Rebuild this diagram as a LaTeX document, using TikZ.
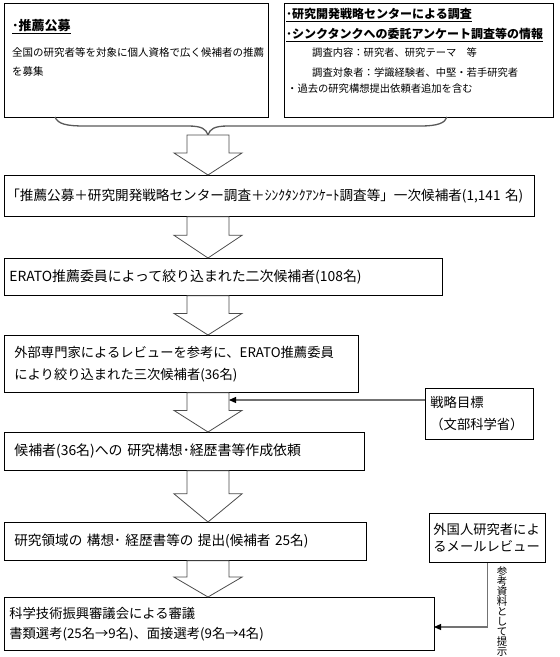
\documentclass[tikz,border=0pt]{standalone}
\usepackage{fontspec}
\setmainfont{Noto Sans CJK JP}
\usetikzlibrary{arrows.meta,calc}
\tikzset{
  box/.style={draw=black, line width=0.8pt, fill=white, anchor=north west, inner ysep=0pt, align=left},
  txt/.style={anchor=west, inner sep=0pt, align=left},
  barrow/.style={draw=black!70, line width=0.8pt, fill=white, line join=miter},
  conn/.style={draw=black!55, line width=1.1pt, -{Triangle[color=black,length=7pt,width=6pt]}},
  bracestyle/.style={draw=black!65, line width=1.3pt},
  fmain/.style={font=\fontsize{13.3}{20}\selectfont},
}
\newcommand\blockarr[2]{\draw[barrow] let \p1=(#1), \p2=(#2), \p3=($(#1)!0.45!(#2)$) in
  (\x1-21pt,\y1) -- (\x1+21pt,\y1) -- (\x1+21pt,\y3) -- (\x1+34pt,\y3) -- (\x1,\y2)
  -- (\x1-34pt,\y3) -- (\x1-21pt,\y3) -- cycle;}
\newcommand\tightlines{\lineskiplimit=-20pt\relax}
\begin{document}
\begin{tikzpicture}[x=1pt,y=-1pt]
\useasboundingbox (0,0) rectangle (560,657);

% top boxes
\node[box, inner xsep=0pt, minimum width=264pt, minimum height=114pt] (b1) at (4,3) {};
\node[txt, font=\fontsize{13}{15}\selectfont] (b1t) at (12,27) {\textbf{\underline{･推薦公募}}};
\node[txt, font=\fontsize{10.5}{19}\selectfont] (b1b) at (12,62.5) {全国の研究者等を対象に個人資格で広く候補者の推薦\\を募集};

\node[box, inner xsep=0pt, minimum width=269pt, minimum height=114pt] (b2) at (284,3) {};
\node[txt, font=\fontsize{12}{14}\selectfont] (b2a) at (286,15) {\textbf{\underline{･研究開発戦略センターによる調査}}};
\node[txt, font=\fontsize{12}{14}\selectfont] (b2b) at (286,35) {\textbf{\underline{･シンクタンクへの委託アンケート調査等の情報}}};
\node[txt, font=\fontsize{10.3}{12}\selectfont] (b2c) at (312,53) {調査内容：研究者、研究テーマ　等};
\node[txt, font=\fontsize{10.3}{12}\selectfont] (b2d) at (312,73) {調査対象者：学識経験者、中堅・若手研究者};
\node[txt, font=\fontsize{10.3}{12}\selectfont] (b2e) at (287,89) {・過去の研究構想提出依頼者追加を含む};

% brace
\coordinate (btip) at (208,135);
\draw[bracestyle] (55,117) .. controls (58,124) and (66,126) .. (85,126) -- (188,126)
  .. controls (202,126) and (206,129) .. (btip)
  .. controls (210,129) and (214,126) .. (228,126) -- (420,126)
  .. controls (438,126) and (445,123) .. (447,117);

% main column
\node[box, font=\fontsize{13.6}{15}\selectfont, text width=526pt, inner xsep=2pt, minimum height=41pt] (b3) at (4,175)
  {「推薦公募＋研究開発戦略センター調査＋ｼﾝｸﾀﾝｸｱﾝｹｰﾄ調査等」一次候補者(1,141~名)};
\node[box, font=\fontsize{13.9}{20}\selectfont, text width=428pt, inner xsep=5pt, minimum height=37pt] (b4) at (4,258)
  {ERATO推薦委員によって絞り込まれた二次候補者(108名)};
\node[box, font=\fontsize{13.3}{22}\selectfont, text width=334pt, inner xsep=10pt, minimum height=57pt] (b5) at (4,335)
  {外部専門家によるレビューを参考に、ERATO推薦委員\\により絞り込まれた三次候補者(36名)};
\node[box, font=\fontsize{13.9}{20}\selectfont, text width=340pt, inner xsep=10pt, minimum height=38pt] (b6) at (4,432)
  {候補者(36名)への~研究構想･経歴書等作成依頼};
\node[box, font=\fontsize{13.6}{20}\selectfont, text width=342pt, inner xsep=10pt, minimum height=38pt] (b7) at (4,522)
  {研究領域の~構想･~経歴書等の~提出(候補者~25名)};
\node[box, fmain, text width=420pt, inner xsep=5pt, minimum height=53pt] (b8) at (4,597)
  {科学技術振興審議会による審議\\書類選考(25名→9名)、面接選考(9名→4名)};

% side boxes
\node[box, font=\fontsize{13.3}{22}\selectfont, text width=98pt, inner xsep=5pt, minimum height=51pt] (senr) at (425,388)
  {戦略目標\\（文部科学省）};
\node[box, font=\fontsize{13.3}{17}\selectfont, text width=108pt, inner xsep=4pt, minimum height=49pt] (gaik) at (429,513)
  {外国人研究者によ\\るメールレビュー};

% block arrows
\blockarr{btip}{b3.north -| btip}
\blockarr{b3.south -| btip}{b4.north -| btip}
\blockarr{b4.south -| btip}{b5.north -| btip}
\blockarr{b5.south -| btip}{b6.north -| btip}
\blockarr{b6.south -| btip}{b7.north -| btip}
\blockarr{b7.south -| btip}{b8.north -| btip}

% connectors
\coordinate (a4r) at (229,400);
\draw[conn] (senr.west |- a4r) -- (a4r);
\coordinate (c8) at (434,627);
\draw[conn] (gaik.south) |- (c8);
\node[anchor=north, inner sep=0pt, align=center, font={\fontsize{10.5}{10}\selectfont\tightlines}] (vl) at (502,566)
  {参\\考\\資\\料\\と\\し\\て\\提\\示};
\end{tikzpicture}
\end{document}
